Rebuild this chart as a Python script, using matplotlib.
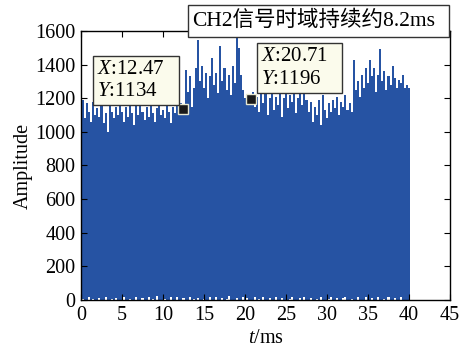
import numpy as np
import matplotlib
matplotlib.use("Agg")
import matplotlib.pyplot as plt
from matplotlib.patches import Rectangle

plt.rcParams['font.family'] = ['Liberation Serif', 'Noto Sans CJK SC']
plt.rcParams['mathtext.fontset'] = 'custom'
plt.rcParams['mathtext.rm'] = 'Liberation Serif'
plt.rcParams['mathtext.it'] = 'Liberation Serif:italic'

# ---- data ----
# peak values of the signal every 0.25 ms from 0 to 40 ms
peaks = [
    1150, 1190, 1080, 1170, 1120, 1060, 1180, 1100, 1140, 1090, 1170, 1050,
    1110, 1000, 1160, 1120, 1080, 1150, 1100, 1170, 1120, 1060, 1150, 1090,
    1170, 1110, 1040, 1160, 1100, 1180, 1120, 1070, 1150, 1090, 1170, 1110,
    1060, 1140, 1180, 1100, 1130, 1080, 1160, 1120, 1050, 1150, 1110, 1170,
    1100, 1170, 1134, 1370, 1240, 1330, 1150, 1260, 1380, 1548, 1300, 1390,
    1260, 1350, 1200, 1330, 1440, 1280, 1350, 1230, 1510, 1300, 1380, 1250,
    1340, 1220, 1390, 1290, 1565, 1500, 1340, 1250, 1200, 1180, 1220, 1196,
    1240, 1150, 1210, 1120, 1230, 1170, 1250, 1100, 1200, 1240, 1130, 1210,
    1160, 1230, 1090, 1200, 1250, 1140, 1220, 1180, 1240, 1110, 1200, 1230,
    1160, 1240, 1190, 1120, 1180, 1060, 1150, 1100, 1190, 1040, 1220, 1130,
    1080, 1170, 1120, 1190, 1140, 1210, 1100, 1180, 1150, 1220, 1130, 1170,
    1120, 1430, 1250, 1300, 1210, 1340, 1260, 1380, 1290, 1430, 1330, 1380,
    1240, 1340, 1490, 1300, 1360, 1250, 1330, 1280, 1390, 1320, 1260, 1310,
    1290, 1340, 1260, 1280, 1260,
]
# lowest value reached around each of those samples
troughs = [
    0, 8, 0, 0, 15, 0, 5, 0, 0, 10, 0, 0, 20, 0, 0, 5, 0, 12, 0, 0,
    0, 20, 0, 0, 8, 0, 0, 15, 0, 0, 10, 0, 0, 18, 0, 5, 0, 22, 0, 0,
    0, 8, 0, 0, 15, 0, 0, 20, 0, 0, 10, 0, 0, 18, 0, 5, 0, 12, 0, 0,
    8, 0, 0, 15, 0, 0, 20, 0, 0, 10, 0, 5, 22, 0, 0, 0, 12, 0, 0, 18,
    0, 10, 0, 0, 0, 15, 0, 5, 0, 20, 0, 0, 12, 0, 0, 18, 0, 0, 10, 0,
    0, 0, 8, 15, 0, 0, 0, 10, 0, 20, 0, 0, 12, 0, 0, 8, 0, 18, 0, 0,
    0, 5, 15, 0, 0, 10, 0, 0, 12, 20, 0, 0, 8, 0, 0, 15, 0, 0, 0, 18,
    0, 0, 10, 0, 0, 15, 0, 0, 8, 0, 18, 0, 0, 12, 0, 0, 15, 0, 0, 0, 0,
]
t_end = 40.0
tips = [(12.47, 1134), (20.71, 1196)]
title_text = "CH2信号时域持续约8.2ms"
xticks = [0, 5, 10, 15, 20, 25, 30, 35, 40, 45]
yticks = [0, 200, 400, 600, 800, 1000, 1200, 1400, 1600]

n = len(peaks)
tp = np.linspace(0, t_end, n)
step = tp[1] - tp[0]
peaks_a = np.array(peaks, float)
troughs_a = np.array(troughs, float)

fig = plt.figure(figsize=(4.61, 3.47), dpi=100)
ax = fig.add_axes([81 / 461, 1 - 300 / 347, 369 / 461, 269 / 347])
blue = '#2653a3'
ax.bar(tp, peaks_a - troughs_a, bottom=troughs_a, width=step, color=blue,
       linewidth=0, align='center')

ax.set_xlim(0, 45)
ax.set_ylim(0, 1600)
ax.set_xticks(xticks)
ax.set_yticks(yticks)
ax.tick_params(direction='in', top=True, right=True, labelsize=14.5, length=4,
               width=0.8)
ax.tick_params(axis='x', pad=4)
ax.tick_params(axis='y', pad=4)
for s in ax.spines.values():
    s.set_linewidth(1.0)
    s.set_zorder(4)
ax.set_xlabel(r'$\it{t}$/ms', fontsize=14.5, labelpad=3)
ax.set_ylabel('Amplitude', fontsize=14.5, labelpad=2)

# datatips
boxes = [((1.46, 1161), (10.5, 291)), ((21.46, 1232), (10.35, 298))]
for (xt, yt), ((bx, by), (bw, bh)) in zip(tips, boxes):
    ax.plot([xt], [yt], marker='s', ms=6.5, mfc='#1a1a1a', mec='#e8e8d0',
            mew=1.0, zorder=5)
    ax.add_patch(Rectangle((bx, by), bw, bh, facecolor='#fbfbec',
                           edgecolor='#333333', lw=1.0, zorder=6))
    ax.text(bx + 0.45, by + bh * 0.72, r'$\it{X}$:' + f'{xt:.2f}', fontsize=15,
            va='center', ha='left', zorder=7)
    ax.text(bx + 0.45, by + bh * 0.27, r'$\it{Y}$:' + f'{yt}', fontsize=15,
            va='center', ha='left', zorder=7)

# title box
ax.add_patch(Rectangle((0.29, 0.978), 0.707, 0.119, transform=ax.transAxes,
                       facecolor='white', edgecolor='#333333', lw=1.0,
                       clip_on=False, zorder=8))
ax.text(0.30, 1.037, title_text, transform=ax.transAxes, fontsize=15.5,
        va='center', ha='left', zorder=9)

fig.savefig('out.png', dpi=100)
